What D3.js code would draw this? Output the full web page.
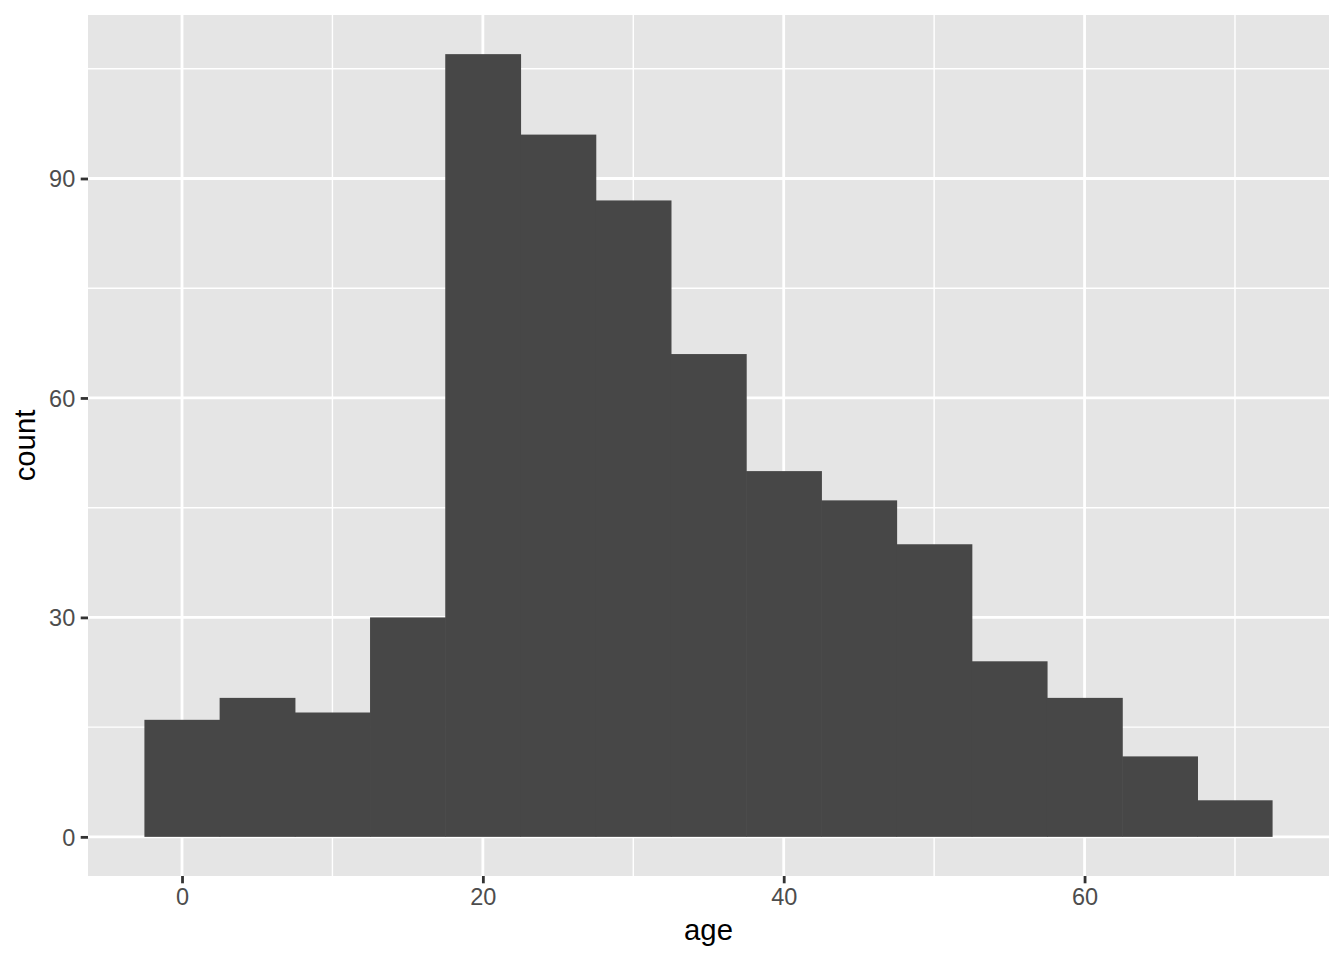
<!DOCTYPE html>
<html>
<head>
<meta charset="utf-8">
<script src="https://cdn.jsdelivr.net/npm/d3@7"></script>
<style>
body { margin: 0; background: #fff; }
text { font-family: "Liberation Sans", Arial, sans-serif; }
</style>
</head>
<body>
<script>
// histogram of age, binwidth 5
var binCenters = [0, 5, 10, 15, 20, 25, 30, 35, 40, 45, 50, 55, 60, 65, 70];
var counts = [16, 19, 17, 30, 107, 96, 87, 66, 50, 46, 40, 24, 19, 11, 5];
var binWidth = 5;
var xTicks = [0, 20, 40, 60];
var xMinor = [10, 30, 50, 70];
var yTicks = [0, 30, 60, 90];
var yMinor = [15, 45, 75, 105];

var width = 1344, height = 960;
var margin = {top: 15, right: 15, bottom: 84, left: 88};

var svg = d3.select("body").append("svg")
    .attr("width", width)
    .attr("height", height);

var xlo = d3.min(binCenters) - binWidth / 2,
    xhi = d3.max(binCenters) + binWidth / 2,
    xpad = (xhi - xlo) * 0.05;
var ymax = d3.max(counts), ypad = ymax * 0.05;

var x = d3.scaleLinear()
    .domain([xlo - xpad, xhi + xpad])
    .range([margin.left, width - margin.right]);
var y = d3.scaleLinear()
    .domain([-ypad, ymax + ypad])
    .range([height - margin.bottom, margin.top]);

// panel
svg.append("rect")
    .attr("x", margin.left)
    .attr("y", margin.top)
    .attr("width", width - margin.left - margin.right)
    .attr("height", height - margin.top - margin.bottom)
    .attr("fill", "#e5e5e5");

var grid = svg.append("g");
grid.selectAll(".vminor").data(xMinor).enter().append("line")
    .attr("x1", d => x(d)).attr("x2", d => x(d))
    .attr("y1", margin.top).attr("y2", height - margin.bottom)
    .attr("stroke", "#fff").attr("stroke-width", 1.4);
grid.selectAll(".hminor").data(yMinor).enter().append("line")
    .attr("y1", d => y(d)).attr("y2", d => y(d))
    .attr("x1", margin.left).attr("x2", width - margin.right)
    .attr("stroke", "#fff").attr("stroke-width", 1.4);
grid.selectAll(".vmajor").data(xTicks).enter().append("line")
    .attr("x1", d => x(d)).attr("x2", d => x(d))
    .attr("y1", margin.top).attr("y2", height - margin.bottom)
    .attr("stroke", "#fff").attr("stroke-width", 2.8);
grid.selectAll(".hmajor").data(yTicks).enter().append("line")
    .attr("y1", d => y(d)).attr("y2", d => y(d))
    .attr("x1", margin.left).attr("x2", width - margin.right)
    .attr("stroke", "#fff").attr("stroke-width", 2.8);

// bars (slight overlap hides antialiasing seams)
svg.selectAll(".bar").data(binCenters).enter().append("rect")
    .attr("x", d => x(d - binWidth / 2))
    .attr("width", (d, i) => x(d + binWidth / 2) - x(d - binWidth / 2) + (i < binCenters.length - 1 ? 0.6 : 0))
    .attr("y", (d, i) => y(counts[i]))
    .attr("height", (d, i) => y(0) - y(counts[i]))
    .attr("fill", "#474747");

// axes
var xAxis = svg.append("g")
    .attr("transform", "translate(0," + (height - margin.bottom) + ")")
    .call(d3.axisBottom(x).tickValues(xTicks).tickSize(7.3).tickPadding(5.5));
var yAxis = svg.append("g")
    .attr("transform", "translate(" + margin.left + ",0)")
    .call(d3.axisLeft(y).tickValues(yTicks).tickSize(7.3).tickPadding(5.5));

[xAxis, yAxis].forEach(function(a) {
    a.select(".domain").remove();
    a.selectAll(".tick line").attr("stroke", "#333").attr("stroke-width", 2.8);
    a.selectAll(".tick text")
        .attr("fill", "#4d4d4d")
        .attr("font-size", "23.5px")
        .attr("font-family", "Liberation Sans, Arial, sans-serif");
});
yAxis.selectAll(".tick text").attr("dy", "0.36em");

// titles
svg.append("text")
    .attr("x", (margin.left + width - margin.right) / 2)
    .attr("y", 940)
    .attr("text-anchor", "middle")
    .attr("font-size", "29.3px")
    .attr("fill", "#000")
    .text("age");

svg.append("text")
    .attr("transform", "translate(35," + ((margin.top + height - margin.bottom) / 2) + ") rotate(-90)")
    .attr("text-anchor", "middle")
    .attr("font-size", "29.3px")
    .attr("fill", "#000")
    .text("count");
</script>
</body>
</html>
